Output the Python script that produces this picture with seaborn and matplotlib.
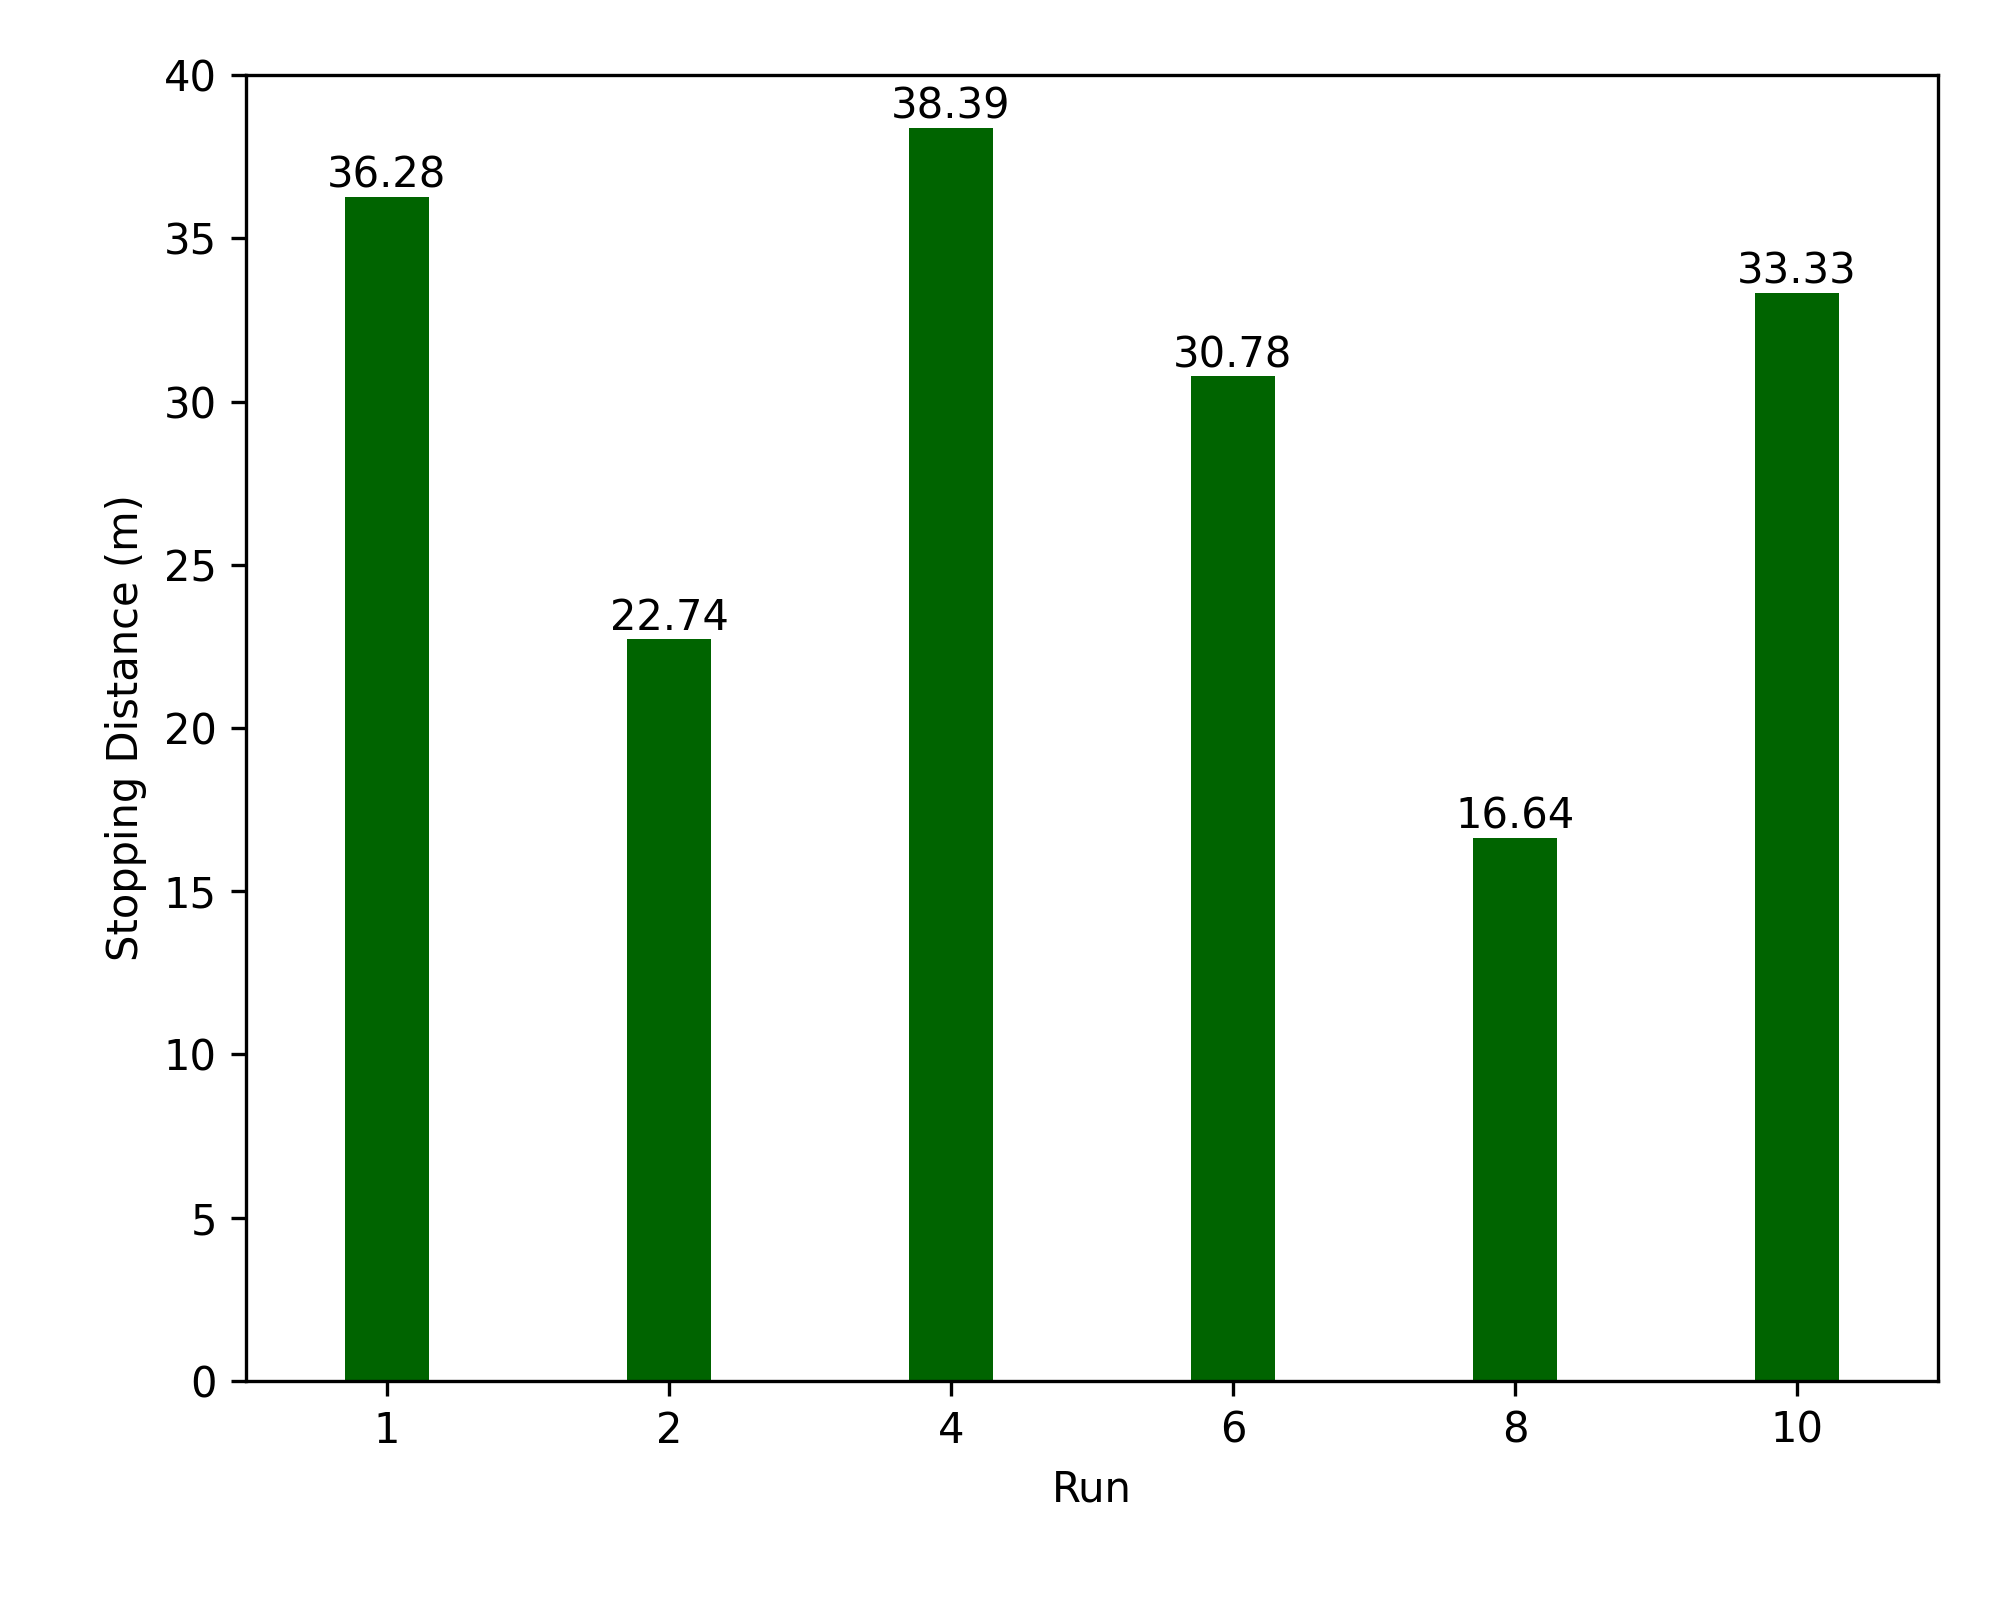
import matplotlib
matplotlib.use("Agg")
import matplotlib.pyplot as plt
import seaborn as sns
import pandas as pd

runs = ["1", "2", "4", "6", "8", "10"]
distances = [36.28, 22.74, 38.39, 30.78, 16.64, 33.33]

df = pd.DataFrame({"Run": runs, "Distance": distances})
fig, ax = plt.subplots(figsize=(2000 / 300, 1600 / 300), dpi=300)
fig.subplots_adjust(left=0.123, right=0.969, top=0.953, bottom=0.137)
sns.barplot(data=df, x="Run", y="Distance", color="darkgreen", saturation=1, width=0.3, ax=ax)
for c in ax.containers:
    ax.bar_label(c, labels=[f"{v:.2f}" for v in distances], padding=0, fontsize=10)
ax.set_xlabel("Run")
ax.set_ylabel("Stopping Distance (m)")
ax.set_ylim(0, 40)
fig.savefig("out.png")
